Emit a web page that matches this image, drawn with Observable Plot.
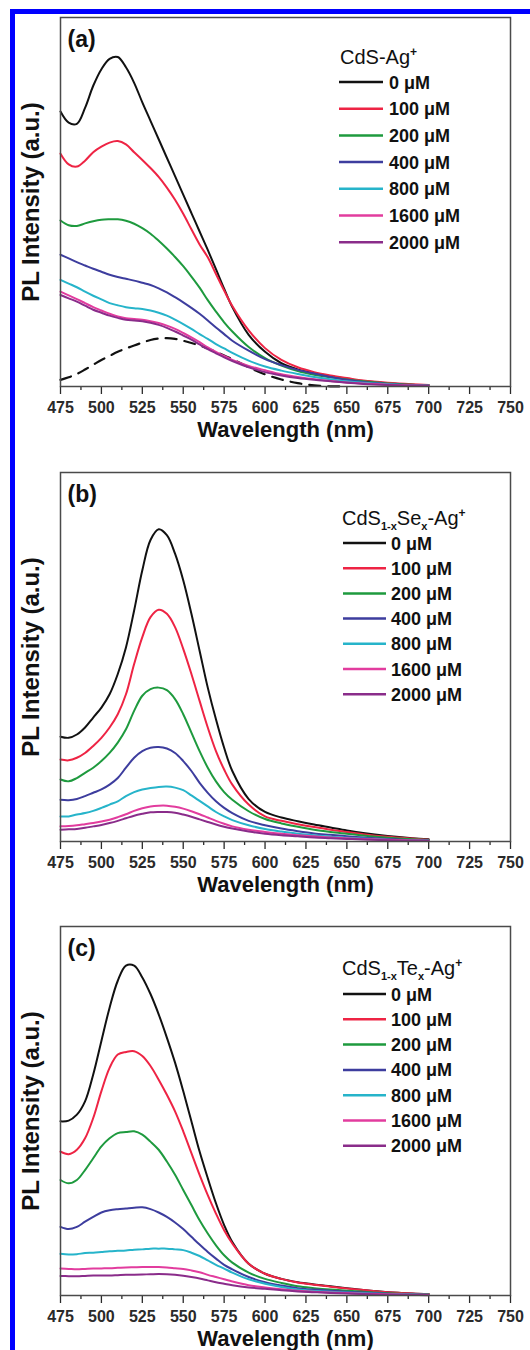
<!DOCTYPE html>
<html><head><meta charset="utf-8">
<script src="https://cdn.jsdelivr.net/npm/d3@7"></script>
<script src="https://cdn.jsdelivr.net/npm/@observablehq/plot@0.6"></script>
<style>
body{margin:0;background:#fff;}
#wrap{position:relative;width:530px;height:1350px;overflow:hidden;background:#fff;}
.panel{position:absolute;left:0;}
.bar{position:absolute;background:#0000ff;z-index:5;}
</style></head><body>
<div id="wrap">
  <div class="bar" style="left:10px;top:9px;width:520px;height:5px"></div>
  <div class="bar" style="left:10px;top:9px;width:5px;height:1341px"></div>
</div>
<script>
// ---- data ----
const wavelengths = [475,480,485,490,495,500,505,510,515,520,525,530,535,540,545,550,555,560,565,570,575,580,590,600,610,620,630,640,650,660,675,690,700];
const concentrations = ["0 μM","100 μM","200 μM","400 μM","800 μM","1600 μM","2000 μM"];
const seriesColors = ["#111111","#ee2444","#1e9a3e","#3d3d9e","#26b4ca","#e23c9e","#8a2c8a"];
const majorTicks = [475,500,525,550,575,600,625,650,675,700,725,750];
const minorTicks = [487.5,512.5,537.5,562.5,587.5,612.5,637.5,662.5,687.5,712.5,737.5];
const panelTags = ["(a)","(b)","(c)"];

// panel (a) CdS-Ag+
const a0    = [74.5,71.5,71.2,75.5,81.5,86.0,88.8,89.3,86.5,82.3,77.0,72.0,67.0,62.0,57.0,52.0,47.0,42.0,37.0,31.8,26.5,21.5,14.0,9.4,6.3,4.6,3.6,2.8,2.1,1.5,0.9,0.5,0.35];
const a100  = [63.1,60.2,59.6,61.2,63.5,65.0,66.1,66.5,65.6,63.5,61.4,59.2,56.8,53.9,50.6,46.8,42.6,38.5,35.0,30.5,26.0,21.8,15.2,10.4,7.2,5.2,3.9,3.0,2.3,1.6,1.0,0.6,0.4];
const a200  = [45.0,43.7,43.5,44.2,44.8,45.2,45.3,45.3,44.9,44.1,42.9,41.4,39.5,37.4,35.1,32.6,29.8,26.8,23.4,20.3,17.4,14.9,10.7,7.7,5.7,4.2,3.2,2.5,1.9,1.4,0.8,0.45,0.3];
const a400  = [35.7,34.7,33.7,32.8,31.9,31.1,30.3,29.7,29.2,28.7,28.1,27.5,26.6,25.5,24.2,22.8,21.3,19.7,17.9,16.0,14.2,12.4,9.7,7.4,5.8,4.5,3.5,2.6,1.8,1.2,0.7,0.4,0.25];
const a800  = [28.9,27.9,26.9,25.7,24.6,23.6,22.6,22.0,21.5,21.2,21.0,20.6,20.0,19.2,18.1,16.9,15.6,14.2,12.9,11.5,10.3,9.1,7.0,5.4,4.3,3.4,2.6,2.0,1.4,1.0,0.6,0.3,0.2];
const a1600 = [25.7,24.7,23.7,22.6,21.5,20.6,19.7,19.0,18.5,18.3,18.1,17.7,17.2,16.5,15.6,14.5,13.3,12.0,10.6,9.4,8.3,7.2,5.6,4.4,3.3,2.6,2.0,1.5,1.1,0.8,0.5,0.3,0.2];
const a2000 = [24.8,23.9,23.0,21.9,20.8,20.0,19.2,18.6,18.1,17.9,17.7,17.3,16.7,15.9,14.9,13.8,12.7,11.4,10.1,9.0,7.9,6.9,5.2,3.9,3.0,2.3,1.8,1.4,1.0,0.7,0.4,0.2,0.15];
// dashed reference curve in (a)
const refWavelengths = [475,480,485,490,495,500,505,510,515,520,525,530,535,540,545,550,555,560,565,570,575,580,590,600,610,620,630,640,650];
const refCurve = [1.8,2.5,3.4,4.6,5.9,7.2,8.3,9.4,10.3,11.1,11.9,12.6,13.0,13.1,12.9,12.4,11.8,11.1,10.3,9.4,8.4,7.4,5.2,3.3,1.9,0.9,0.3,0.05,0];

// panel (b) CdS1-xSex-Ag+
const b0    = [28.4,28.1,29.0,30.9,33.6,36.3,39.9,45.4,52.6,62.6,73.5,81.7,84.6,83.0,78.0,70.8,61.7,51.7,41.7,33.1,25.4,19.1,11.5,8.0,6.5,5.5,4.6,3.8,3.0,2.3,1.5,0.9,0.6];
const b100  = [22.2,22.0,22.7,24.0,25.9,28.1,30.9,34.5,39.9,48.1,55.4,60.8,62.8,61.7,58.1,52.2,45.4,38.1,30.9,24.5,19.5,15.4,10.0,6.8,5.6,4.7,3.9,3.2,2.6,2.0,1.3,0.8,0.5];
const b200  = [16.8,16.3,17.2,18.6,20.0,21.8,24.0,26.8,30.4,35.4,39.5,41.3,41.7,41.0,38.6,34.5,29.5,24.5,20.0,16.3,13.4,11.3,8.2,6.1,4.9,4.0,3.2,2.6,2.1,1.6,1.0,0.6,0.4];
const b400  = [11.3,11.2,11.5,12.3,13.2,14.1,15.4,17.2,20.0,22.7,24.5,25.4,25.6,25.2,24.0,21.8,19.1,15.9,13.2,10.9,9.1,7.7,5.6,4.4,3.5,2.8,2.2,1.8,1.4,1.1,0.7,0.4,0.3];
const b800  = [6.8,6.8,7.3,7.7,8.3,9.1,10.0,10.9,12.3,13.4,14.1,14.5,14.8,14.9,14.6,13.9,12.5,11.0,9.5,8.0,6.8,5.8,4.4,3.4,2.7,2.1,1.7,1.3,1.0,0.8,0.5,0.3,0.2];
const b1600 = [4.1,4.2,4.4,4.7,5.0,5.4,5.9,6.6,7.4,8.3,9.0,9.5,9.7,9.7,9.4,8.9,8.2,7.4,6.5,5.6,4.8,4.1,3.2,2.6,2.1,1.7,1.4,1.1,0.9,0.7,0.45,0.3,0.2];
const b2000 = [3.2,3.3,3.4,3.7,4.1,4.5,5.0,5.6,6.3,7.0,7.5,7.9,8.0,8.0,7.8,7.3,6.7,6.0,5.3,4.6,4.0,3.5,2.7,2.1,1.7,1.4,1.1,0.9,0.7,0.55,0.35,0.2,0.15];

// panel (c) CdS1-xTex-Ag+
const c0    = [47.2,47.4,49.0,52.6,59.9,69.0,78.0,85.3,89.4,89.4,86.2,81.7,76.2,69.9,63.1,55.4,47.2,39.0,31.8,25.0,19.1,14.5,8.6,5.9,4.5,3.6,3.0,2.5,2.0,1.5,0.9,0.55,0.4];
const c100  = [39.0,38.3,39.5,42.6,48.1,55.4,61.7,65.3,66.0,66.2,64.9,62.2,58.5,54.4,49.9,44.5,38.6,32.7,27.2,22.2,17.7,14.1,8.6,5.9,4.5,3.5,2.9,2.4,1.9,1.5,0.9,0.55,0.4];
const c200  = [31.3,30.4,31.3,34.0,37.2,40.4,42.6,44.0,44.3,44.5,43.6,41.7,39.5,36.3,32.7,28.6,24.5,20.4,16.8,13.6,10.9,8.9,6.2,4.5,3.4,2.5,2.0,1.6,1.3,1.0,0.6,0.35,0.3];
const c400  = [18.6,18.0,18.6,20.0,21.3,22.5,23.1,23.4,23.6,23.8,23.9,23.4,22.5,21.3,19.8,18.0,15.9,13.8,11.8,10.0,8.3,7.1,5.0,3.6,2.7,2.0,1.6,1.3,1.0,0.8,0.5,0.3,0.2];
const c800  = [11.3,11.1,11.2,11.5,11.6,11.8,12.0,12.1,12.2,12.4,12.5,12.7,12.7,12.7,12.5,12.3,11.6,10.7,9.5,8.3,7.3,6.2,4.4,3.2,2.3,1.6,1.2,1.0,0.8,0.6,0.4,0.25,0.2];
const c1600 = [7.3,7.2,7.1,7.2,7.3,7.35,7.4,7.5,7.6,7.65,7.7,7.7,7.7,7.6,7.4,7.2,6.8,6.3,5.6,5.0,4.4,3.8,2.8,2.2,1.7,1.3,1.0,0.8,0.65,0.5,0.35,0.2,0.15];
const c2000 = [5.3,5.25,5.2,5.3,5.4,5.4,5.4,5.5,5.6,5.65,5.7,5.75,5.8,5.75,5.6,5.35,5.0,4.6,4.1,3.6,3.2,2.8,2.2,1.8,1.4,1.1,0.9,0.7,0.55,0.4,0.25,0.15,0.1];

// legend titles: [text, kind]
const titleA = [["CdS-Ag",""],["+","sup"]];
const titleB = [["CdS",""],["1-x","sub"],["Se",""],["x","sub"],["-Ag",""],["+","sup"]];
const titleC = [["CdS",""],["1-x","sub"],["Te",""],["x","sub"],["-Ag",""],["+","sup"]];

// ---- layout ----
const FONT = "'Liberation Sans', Arial, Helvetica, sans-serif";
const W = 530, H = 455, MT = 17, MB = 69, ML = 60, MR = 20;
const panels = [
  {top: 0,   tag: panelTags[0], series: [a0,a100,a200,a400,a800,a1600,a2000], title: titleA, ref: true,
   lg: {lx1: 339, lx2: 383, tx: 389, titleX: 340, titleY: 40, row0: 65, step: 26.7}},
  {top: 455, tag: panelTags[1], series: [b0,b100,b200,b400,b800,b1600,b2000], title: titleB, ref: false,
   lg: {lx1: 343, lx2: 386, tx: 391, titleX: 342, titleY: 46, row0: 71, step: 25.2}},
  {top: 909, tag: panelTags[2], series: [c0,c100,c200,c400,c800,c1600,c2000], title: titleC, ref: false,
   lg: {lx1: 343, lx2: 386, tx: 391, titleX: 342, titleY: 42, row0: 68, step: 25.3}}
];

const wrap = document.getElementById("wrap");

for (const p of panels) {
  const rows = [];
  p.series.forEach((vals, i) => vals.forEach((v, j) => rows.push({wl: wavelengths[j], v, c: concentrations[i]})));
  const refRows = refWavelengths.map((w, j) => ({wl: w, v: refCurve[j]}));

  const marks = [
    Plot.axisX(majorTicks, {anchor: "bottom", tickSize: 8, tickPadding: 7, fontSize: 16, fontWeight: "bold",
      color: "#2a2a2a", strokeWidth: 1.3, label: null, tickFormat: d => String(d)}),
    Plot.axisX(minorTicks, {anchor: "bottom", tickSize: 4, color: "#2a2a2a", strokeWidth: 1.3, label: null, tickFormat: () => ""}),
  ];
  if (p.ref) marks.push(Plot.line(refRows, {x: "wl", y: "v", stroke: "#111", strokeWidth: 2.2, strokeDasharray: "11,8", curve: "catmull-rom"}));
  marks.push(Plot.line(rows, {x: "wl", y: "v", z: "c", stroke: "c", strokeWidth: 2, curve: "catmull-rom"}));
  marks.push(Plot.frame({stroke: "#4a4a4a", strokeWidth: 1.5}));
  marks.push(Plot.text([p.tag], {text: d => d, frameAnchor: "top-left", dx: 7, dy: 22, textAnchor: "start", lineAnchor: "middle",
    fontSize: 23, fontWeight: "bold", fill: "#111"}));
  marks.push(Plot.text(["PL Intensity (a.u.)"], {text: d => d, frameAnchor: "left", dx: -29, rotate: -90, textAnchor: "middle", lineAnchor: "middle",
    fontSize: 24, fontWeight: "bold", fill: "#111"}));
  marks.push(Plot.text(["Wavelength (nm)"], {text: d => d, frameAnchor: "bottom", dy: 50, textAnchor: "middle", lineAnchor: "bottom",
    fontSize: 22, fontWeight: "bold", fill: "#111"}));

  const svg = Plot.plot({
    width: W, height: H, marginTop: MT, marginBottom: MB, marginLeft: ML, marginRight: MR,
    style: {fontFamily: FONT, background: "white", overflow: "visible"},
    x: {domain: [475, 750], axis: null},
    y: {domain: [0, 100], axis: null},
    color: {domain: concentrations, range: seriesColors},
    marks
  });

  // legend
  const g = d3.select(svg).append("g").attr("font-family", FONT).attr("fill", "#111").attr("text-anchor", "start");
  const L = p.lg;
  const t = g.append("text").attr("x", L.titleX).attr("y", MT + L.titleY + 7).attr("font-size", 20);
  let cur = 0;
  for (const [txt, kind] of p.title) {
    const s = kind === "sub" ? 5 : kind === "sup" ? -8 : 0;
    t.append("tspan").attr("dy", s - cur).attr("font-size", kind === "sub" ? 11 : kind === "sup" ? 12 : 20)
      .attr("font-weight", kind ? "bold" : "normal").text(txt);
    cur = s;
  }
  concentrations.forEach((c, i) => {
    const y = MT + L.row0 + i * L.step;
    g.append("line").attr("x1", L.lx1).attr("x2", L.lx2).attr("y1", y).attr("y2", y)
      .attr("stroke", seriesColors[i]).attr("stroke-width", 2.5);
    g.append("text").attr("x", L.tx).attr("y", y + 6.5).attr("font-size", 18)
      .attr("font-weight", "bold").text(c);
  });

  const div = document.createElement("div");
  div.className = "panel";
  div.style.top = p.top + "px";
  div.appendChild(svg);
  wrap.appendChild(div);
}
</script>
</body></html>
